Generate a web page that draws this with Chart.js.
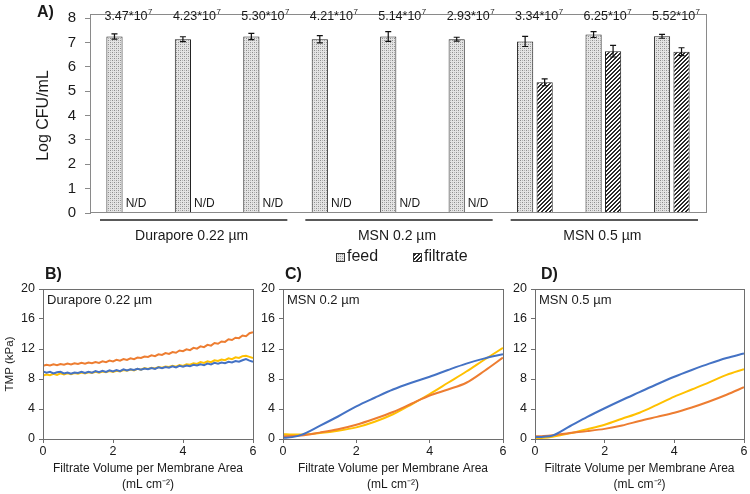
<!DOCTYPE html>
<html>
<head>
<meta charset="utf-8">
<script src="https://cdn.jsdelivr.net/npm/chart.js@4"></script>
<style>
  body { margin: 0; background: #fff; }
  #wrap { position: relative; width: 750px; height: 494px; overflow: hidden; }
  canvas { position: absolute; }
</style>
</head>
<body>
<div id="wrap">
  <canvas id="chartA" width="750" height="270" style="left:0;top:0"></canvas>
  <canvas id="chartB" width="262" height="232" style="left:0;top:262px"></canvas>
  <canvas id="chartC" width="257" height="232" style="left:255px;top:262px"></canvas>
  <canvas id="chartD" width="238" height="232" style="left:512px;top:262px"></canvas>
</div>
<script>
const FONT = "'Liberation Sans', Arial, sans-serif";
Chart.defaults.font.family = FONT;
Chart.defaults.color = '#1a1a1a';

// ---- Panel A : log CFU/mL, feed vs filtrate
const membranes = ['Durapore 0.22 µm', 'Durapore 0.22 µm', 'Durapore 0.22 µm',
                   'MSN 0.2 µm', 'MSN 0.2 µm', 'MSN 0.2 µm',
                   'MSN 0.5 µm', 'MSN 0.5 µm', 'MSN 0.5 µm'];
const feedCount = ['3.47', '4.23', '5.30', '4.21', '5.14', '2.93', '3.34', '6.25', '5.52']; // x10^7
const feedExp = '7';
const feedLog = [7.24, 7.13, 7.24, 7.13, 7.24, 7.13, 7.04, 7.32, 7.25];
const feedErr = [0.11, 0.10, 0.13, 0.15, 0.20, 0.08, 0.21, 0.12, 0.08];
const filtrateLog = [null, null, null, null, null, null, 5.36, 6.64, 6.62]; // null = N/D
const filtrateErr = [0, 0, 0, 0, 0, 0, 0.14, 0.24, 0.16];
const yTicksA = [0, 1, 2, 3, 4, 5, 6, 7, 8];

// ---- Panels B-D : TMP (kPa) vs filtrate volume per membrane area
const runNames = ['run 1', 'run 2', 'run 3'];
const runColors = ['#4472C4', '#ED7D31', '#FFC000'];

const volB = [0, 0.1, 0.2, 0.3, 0.4, 0.5, 0.6, 0.7, 0.8, 0.9, 1.0, 1.1, 1.2, 1.3, 1.4, 1.5,
  1.6, 1.7, 1.8, 1.9, 2.0, 2.1, 2.2, 2.3, 2.4, 2.5, 2.6, 2.7, 2.8, 2.9, 3.0, 3.1, 3.2, 3.3,
  3.4, 3.5, 3.6, 3.7, 3.8, 3.9, 4.0, 4.1, 4.2, 4.3, 4.4, 4.5, 4.6, 4.7, 4.8, 4.9, 5.0, 5.1,
  5.2, 5.3, 5.4, 5.5, 5.6, 5.7, 5.8, 5.9, 6.0];
const tmpB1 = [9.0, 8.85, 8.95, 8.75, 8.9, 8.95, 8.75, 8.85, 8.7, 8.85, 8.8, 8.95, 8.8, 8.95,
  8.85, 9.05, 8.9, 9.1, 8.95, 9.15, 9.0, 9.2, 9.05, 9.3, 9.15, 9.3, 9.2, 9.35, 9.25, 9.4, 9.3,
  9.45, 9.35, 9.55, 9.45, 9.6, 9.5, 9.7, 9.55, 9.75, 9.65, 9.8, 9.7, 9.9, 9.8, 9.95, 9.85,
  10.05, 9.95, 10.15, 10.05, 10.2, 10.1, 10.3, 10.2, 10.4, 10.3, 10.5, 10.65, 10.45, 10.3];
const tmpB2 = [9.75, 9.9, 9.8, 9.95, 9.85, 10.0, 9.9, 10.05, 9.95, 10.1, 10.0, 10.15, 10.05,
  10.2, 10.1, 10.25, 10.15, 10.35, 10.25, 10.45, 10.35, 10.55, 10.45, 10.65, 10.55, 10.75,
  10.65, 10.85, 10.8, 11.0, 10.95, 11.15, 11.05, 11.3, 11.2, 11.45, 11.35, 11.6, 11.5, 11.8,
  11.7, 11.95, 11.85, 12.15, 12.05, 12.35, 12.25, 12.55, 12.45, 12.8, 12.7, 13.0, 12.95,
  13.3, 13.2, 13.5, 13.45, 13.8, 13.7, 14.1, 14.25];
const tmpB3 = [8.45, 8.6, 8.5, 8.7, 8.55, 8.75, 8.6, 8.75, 8.65, 8.8, 8.7, 8.85, 8.75, 8.9,
  8.8, 8.95, 8.85, 9.0, 8.9, 9.05, 8.95, 9.1, 9.0, 9.2, 9.1, 9.25, 9.15, 9.35, 9.25, 9.45,
  9.35, 9.5, 9.4, 9.6, 9.5, 9.65, 9.6, 9.75, 9.65, 9.85, 9.75, 9.95, 9.9, 10.1, 10.0, 10.25,
  10.15, 10.35, 10.25, 10.5, 10.4, 10.6, 10.5, 10.75, 10.65, 10.9, 10.8, 11.05, 11.1, 10.95, 10.8];

const volC = [0, 0.25, 0.5, 1, 1.5, 2, 2.5, 3, 3.5, 4, 4.5, 5, 5.5, 6];
const tmpC1 = [0.15, 0.25, 0.55, 1.75, 3.0, 4.35, 5.5, 6.6, 7.5, 8.3, 9.2, 10.05, 10.75, 11.3];
const tmpC2 = [0.35, 0.4, 0.45, 0.85, 1.3, 1.9, 2.7, 3.6, 4.7, 5.8, 6.6, 7.5, 9.1, 10.85];
const tmpC3 = [0.65, 0.6, 0.6, 0.8, 1.1, 1.55, 2.3, 3.3, 4.6, 6.0, 7.5, 9.0, 10.6, 12.15];

const volD = [0, 0.25, 0.5, 1, 1.5, 2, 2.5, 3, 3.5, 4, 4.5, 5, 5.5, 6];
const tmpD1 = [0.25, 0.3, 0.45, 1.7, 2.95, 4.1, 5.2, 6.25, 7.3, 8.3, 9.2, 10.05, 10.8, 11.4];
const tmpD2 = [0.35, 0.4, 0.5, 0.8, 1.05, 1.35, 1.8, 2.4, 2.95, 3.5, 4.2, 5.0, 5.9, 6.9];
const tmpD3 = [0.1, 0.15, 0.3, 0.75, 1.3, 1.9, 2.7, 3.5, 4.55, 5.65, 6.6, 7.55, 8.55, 9.3];

// fill patterns for the bars
function makePattern(draw) {
  const c = document.createElement('canvas');
  c.width = 4; c.height = 4;
  const g = c.getContext('2d');
  draw(g);
  return g.createPattern(c, 'repeat');
}
const feedFill = makePattern(g => {
  g.fillStyle = '#e4e4e4'; g.fillRect(0, 0, 4, 4);
  g.fillStyle = '#8c8c8c'; g.fillRect(0, 0, 1, 1); g.fillRect(2, 2, 1, 1);
  g.fillStyle = '#b4b4b4'; g.fillRect(2, 0, 1, 1); g.fillRect(0, 2, 1, 1);
});
const filtrateFill = makePattern(g => {
  g.fillStyle = '#ffffff'; g.fillRect(0, 0, 4, 4);
  g.fillStyle = '#2a2a2a';
  for (let x = 0; x < 4; x++) for (let y = 0; y < 4; y++) if ((x + y) % 4 < 2) g.fillRect(x, y, 1, 1);
});

const panelAExtras = {
  id: 'panelAExtras',
  afterDatasetsDraw(chart) {
    const ctx = chart.ctx, y = chart.scales.y;
    ctx.save();
    ctx.strokeStyle = '#111';
    ctx.lineWidth = 1.2;
    [feedErr, filtrateErr].forEach((errs, di) => {
      const vals = chart.data.datasets[di].data;
      chart.getDatasetMeta(di).data.forEach((bar, i) => {
        if (vals[i] == null || !errs[i]) return;
        const hi = y.getPixelForValue(vals[i] + errs[i]);
        const lo = y.getPixelForValue(vals[i] - errs[i]);
        ctx.beginPath();
        ctx.moveTo(bar.x, hi); ctx.lineTo(bar.x, lo);
        ctx.moveTo(bar.x - 3, hi); ctx.lineTo(bar.x + 3, hi);
        ctx.moveTo(bar.x - 3, lo); ctx.lineTo(bar.x + 3, lo);
        ctx.stroke();
      });
    });
    ctx.restore();
  },
  afterDraw(chart) {
    const ctx = chart.ctx, a = chart.chartArea, x = chart.scales.x;
    ctx.save();
    // plot box
    ctx.strokeStyle = '#8a8a8a';
    ctx.lineWidth = 1;
    ctx.strokeRect(a.left + 0.5, a.top - 3.5, a.right - a.left, a.bottom - a.top + 3);

    // counts above each group
    const filtMeta = chart.getDatasetMeta(1);
    ctx.fillStyle = '#1a1a1a';
    feedCount.forEach((m, i) => {
      const cx = x.getPixelForValue(i) + 4;
      ctx.font = '12.5px ' + FONT;
      const w1 = ctx.measureText(m + '*10').width;
      ctx.font = '8px ' + FONT;
      const w2 = ctx.measureText(feedExp).width;
      const x0 = cx - (w1 + w2) / 2;
      ctx.textAlign = 'left';
      ctx.textBaseline = 'alphabetic';
      ctx.font = '12.5px ' + FONT;
      ctx.fillText(m + '*10', x0, 19.5);
      ctx.font = '8px ' + FONT;
      ctx.fillText(feedExp, x0 + w1 + 0.5, 14);
    });

    // N/D marks
    ctx.font = '12px ' + FONT;
    ctx.textAlign = 'center';
    ctx.textBaseline = 'middle';
    filtrateLog.forEach((v, i) => {
      if (v != null) return;
      const el = filtMeta.data[i];
      const px = el && isFinite(el.x) ? el.x : x.getPixelForValue(i) + 10;
      ctx.fillText('N/D', px + 2, 204);
    });

    // membrane group lines + labels
    const groups = [];
    membranes.forEach((m, i) => {
      const g = groups[groups.length - 1];
      if (g && g.name === m) g.end = i; else groups.push({ name: m, start: i, end: i });
    });
    const half = (x.getPixelForValue(1) - x.getPixelForValue(0)) / 2;
    ctx.strokeStyle = '#222';
    ctx.lineWidth = 1.5;
    ctx.font = '14px ' + FONT;
    groups.forEach(g => {
      const l = x.getPixelForValue(g.start) - half + 10;
      const r = x.getPixelForValue(g.end) + half - 8;
      ctx.beginPath();
      ctx.moveTo(l, 220); ctx.lineTo(r, 220);
      ctx.stroke();
      ctx.fillText(g.name, (l + r) / 2 - 2, 236);
    });

    // legend
    const items = [{ t: 'feed', fill: feedFill, bx: 336 }, { t: 'filtrate', fill: filtrateFill, bx: 413 }];
    ctx.font = '16px ' + FONT;
    ctx.textAlign = 'left';
    ctx.lineWidth = 1;
    items.forEach(it => {
      ctx.fillStyle = it.fill;
      ctx.fillRect(it.bx, 253, 8, 8);
      ctx.strokeStyle = '#333';
      ctx.strokeRect(it.bx + 0.5, 253.5, 8, 8);
      ctx.fillStyle = '#1a1a1a';
      ctx.fillText(it.t, it.bx + 11, 257);
    });

    // panel letter
    ctx.font = 'bold 16px ' + FONT;
    ctx.fillText('A)', 37, 13);
    ctx.restore();
  }
};

new Chart(document.getElementById('chartA'), {
  type: 'bar',
  data: {
    labels: membranes,
    datasets: [
      { label: 'feed', data: feedLog, backgroundColor: feedFill, borderColor: '#222', borderWidth: 1 },
      { label: 'filtrate', data: filtrateLog, backgroundColor: filtrateFill, borderColor: '#222', borderWidth: 1 }
    ]
  },
  options: {
    responsive: false,
    animation: false,
    layout: { padding: { top: 8, right: 44, bottom: 57, left: 0 } },
    datasets: { bar: { categoryPercentage: 0.57, barPercentage: 0.83 } },
    plugins: { legend: { display: false }, tooltip: { enabled: false } },
    scales: {
      x: { display: false },
      y: {
        min: 0, max: 8,
        afterBuildTicks: s => { s.ticks = yTicksA.map(v => ({ value: v })); },
        ticks: { font: { size: 15 }, padding: 9, color: '#1a1a1a' },
        grid: { drawOnChartArea: false, tickLength: 5, color: '#8a8a8a' },
        border: { color: '#8a8a8a' },
        title: { display: true, text: 'Log CFU/mL', font: { size: 16 }, padding: { top: 34 }, color: '#1a1a1a' },
        afterFit: s => { s.width = 90; }
      }
    }
  },
  plugins: [panelAExtras]
});

// ---- panels B, C, D
const panelBox = {
  id: 'panelBox',
  afterDraw(chart, args, opts) {
    const ctx = chart.ctx, a = chart.chartArea;
    ctx.save();
    ctx.strokeStyle = '#6e6e6e';
    ctx.lineWidth = 1;
    ctx.strokeRect(a.left + 0.5, a.top + 0.5, a.right - a.left, a.bottom - a.top);
    ctx.fillStyle = '#1a1a1a';
    ctx.textAlign = 'left';
    ctx.textBaseline = 'middle';
    ctx.font = 'bold 16px ' + FONT;
    ctx.fillText(opts.letter, a.left + opts.letterDx, a.top - 14);
    ctx.font = '13px ' + FONT;
    ctx.fillText(opts.note, a.left + 4, a.top + 11);
    ctx.restore();
  }
};

function tmpChart(id, vol, runs, cfg) {
  return new Chart(document.getElementById(id), {
    type: 'line',
    data: {
      datasets: runs.map((r, k) => ({
        label: runNames[k],
        data: vol.map((v, i) => ({ x: v, y: r[i] })),
        borderColor: runColors[k],
        borderWidth: 2,
        pointRadius: 0,
        tension: cfg.tension,
        cubicInterpolationMode: cfg.tension ? 'monotone' : 'default',
        fill: false
      }))
    },
    options: {
      responsive: false,
      animation: false,
      layout: { padding: { top: 27, right: cfg.padRight, bottom: 0, left: 0 } },
      plugins: {
        legend: { display: false },
        tooltip: { enabled: false },
        panelBox: { letter: cfg.letter, note: cfg.note, letterDx: cfg.letterDx }
      },
      scales: {
        x: {
          type: 'linear', min: 0, max: 6,
          ticks: { stepSize: 2, font: { size: 12.5 }, padding: 1, color: '#1a1a1a', maxRotation: 0 },
          grid: { drawOnChartArea: false, tickLength: 4, color: '#6e6e6e' },
          border: { color: '#6e6e6e' },
          title: {
            display: true,
            text: ['Filtrate Volume per Membrane Area', '(mL cm\u207B\u00B2)'],
            font: { size: 12, lineHeight: 1.333 },
            padding: { top: 0, bottom: 1 },
            color: '#1a1a1a'
          },
          afterFit: s => { s.height = 55; }
        },
        y: {
          min: 0, max: 20,
          ticks: { stepSize: 4, font: { size: 12.5 }, padding: 4, color: '#1a1a1a' },
          grid: { drawOnChartArea: false, tickLength: 4, color: '#6e6e6e' },
          border: { color: '#6e6e6e' },
          title: {
            display: !!cfg.yTitle,
            text: cfg.yTitle || '',
            font: { size: 11.5 },
            padding: { top: 3 },
            color: '#1a1a1a'
          },
          afterFit: s => { s.width = cfg.yWidth; }
        }
      }
    },
    plugins: [panelBox]
  });
}

tmpChart('chartB', volB, [tmpB1, tmpB2, tmpB3],
  { letter: 'B)', letterDx: 2, note: 'Durapore 0.22 µm', yTitle: 'TMP (kPa)', yWidth: 43, padRight: 9, tension: 0 });
tmpChart('chartC', volC, [tmpC1, tmpC2, tmpC3],
  { letter: 'C)', letterDx: 2, note: 'MSN 0.2 µm', yWidth: 28, padRight: 9, tension: 0.3 });
tmpChart('chartD', volD, [tmpD1, tmpD2, tmpD3],
  { letter: 'D)', letterDx: 6, note: 'MSN 0.5 µm', yWidth: 23, padRight: 6, tension: 0.3 });
</script>
</body>
</html>
